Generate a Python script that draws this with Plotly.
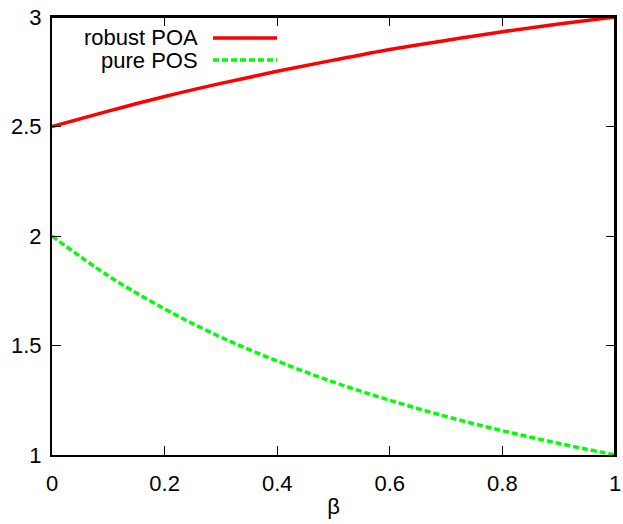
import plotly.graph_objects as go

beta = [0.0, 0.1, 0.2, 0.3, 0.4, 0.5, 0.6, 0.7, 0.8, 0.9, 1.0]
robust_poa = [2.5, 2.57, 2.637, 2.697, 2.752, 2.803, 2.852, 2.893, 2.933, 2.968, 3.0]
pure_pos = [2.0, 1.818, 1.667, 1.538, 1.429, 1.333, 1.25, 1.176, 1.111, 1.053, 1.0]
x_ticks = [0, 0.2, 0.4, 0.6, 0.8, 1]
x_tick_labels = ["0", "0.2", "0.4", "0.6", "0.8", "1"]
y_ticks = [1, 1.5, 2, 2.5, 3]
y_tick_labels = ["1", "1.5", "2", "2.5", "3"]
legend_names = ["robust POA", "pure POS"]

RED = "#ff0000"
GREEN = "#00ff00"
FONT = "Liberation Sans, Arial, sans-serif"
FS = 22

fig = go.Figure()
fig.add_trace(go.Scatter(x=beta, y=robust_poa, mode="lines", name=legend_names[0],
                         line=dict(color=RED, width=3.5, shape="spline"), showlegend=False))
fig.add_trace(go.Scatter(x=beta, y=pure_pos, mode="lines", name=legend_names[1],
                         line=dict(color=GREEN, width=3.5, dash="6px,3px", shape="spline"),
                         showlegend=False))

W, H = 623, 524
L, R, T, B = 52, 8, 17, 69
pw, ph = W - L - R, H - T - B

def px_to_paper(x, y):
    return (x - L) / pw, 1 - (y - T) / ph

# manual gnuplot-style legend (text left, sample right)
leg_rows = [(38, RED, None), (60, GREEN, "6px,3px")]
for (yy, col, dash), name in zip(leg_rows, legend_names):
    xt, yt = px_to_paper(200, yy)
    fig.add_annotation(x=xt, y=yt, xref="paper", yref="paper", text=name,
                       showarrow=False, xanchor="right", yanchor="middle",
                       font=dict(family=FONT, size=FS, color="black"))
    x0, y0 = px_to_paper(213, yy)
    x1, _ = px_to_paper(277, yy)
    fig.add_shape(type="line", xref="paper", yref="paper", x0=x0, x1=x1, y0=y0, y1=y0,
                  line=dict(color=col, width=3.5, dash=dash))

axis_common = dict(showgrid=False, zeroline=False, showline=True, linecolor="black",
                   linewidth=2, ticks="inside", ticklen=9, tickwidth=1.3,
                   tickcolor="black", mirror="allticks",
                   tickfont=dict(family=FONT, size=FS, color="black"))

fig.update_xaxes(range=[0, 1], tickvals=x_ticks, ticktext=x_tick_labels,
                 title=dict(text="β", font=dict(family=FONT, size=FS, color="black"), standoff=3),
                 ticklabelstandoff=8, **axis_common)
fig.update_yaxes(range=[1, 3], tickvals=y_ticks, ticktext=y_tick_labels,
                 ticklabelstandoff=4, **axis_common)

# plot frame on top and right
fig.add_shape(type="line", xref="paper", yref="paper", x0=0, x1=1, y0=1, y1=1,
              line=dict(color="black", width=2), layer="above")
fig.add_shape(type="line", xref="paper", yref="paper", x0=1, x1=1, y0=0, y1=1,
              line=dict(color="black", width=2), layer="above")

fig.update_layout(width=W, height=H, margin=dict(l=L, r=R, t=T, b=B, autoexpand=False),
                  plot_bgcolor="white", paper_bgcolor="white",
                  font=dict(family=FONT, color="black"))

fig.write_html("out.html", config={"displayModeBar": False},
               post_script="document.body.style.margin='0';document.body.style.overflow='hidden';")
